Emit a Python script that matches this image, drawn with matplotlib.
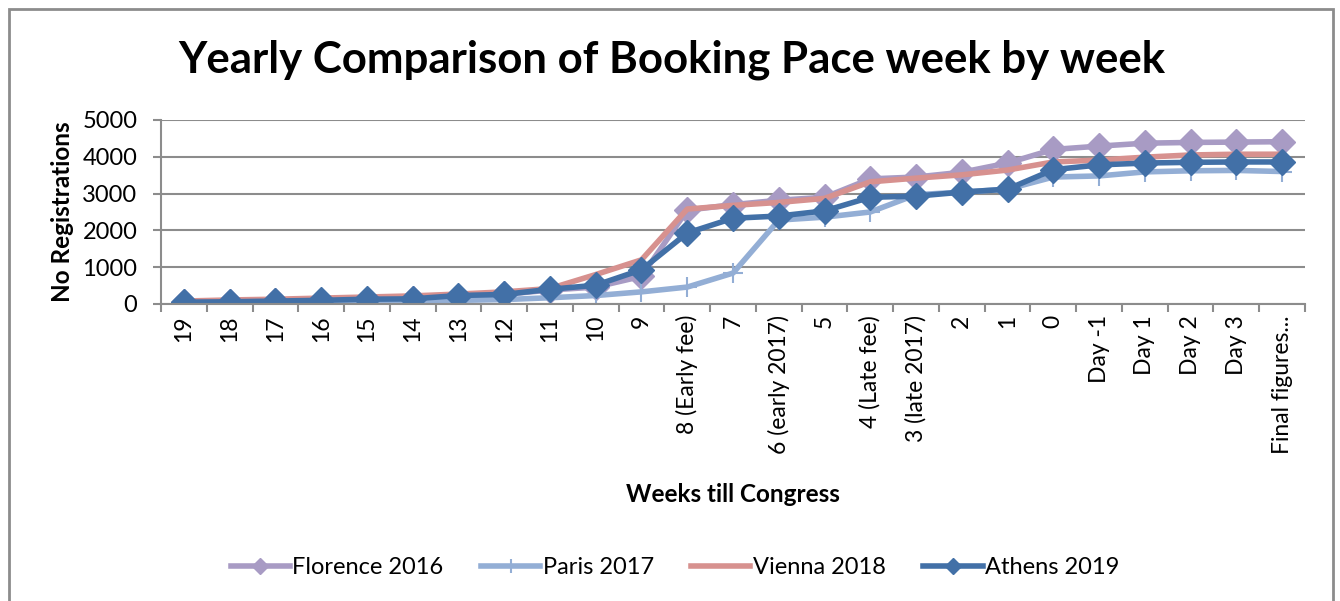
import matplotlib
matplotlib.use("Agg")
import matplotlib.pyplot as plt
from matplotlib.patches import Rectangle

plt.rcParams['font.family'] = ['Lato', 'DejaVu Sans']

weeks = ['19', '18', '17', '16', '15', '14', '13', '12', '11', '10', '9',
         '8 (Early fee)', '7', '6 (early 2017)', '5', '4 (Late fee)',
         '3 (late 2017)', '2', '1', '0', 'Day -1', 'Day 1', 'Day 2',
         'Day 3', 'Final figures...']

florence = [50, 60, 70, 90, 110, 130, 200, 260, 380, 460, 750,
            2550, 2700, 2820, 2900, 3400, 3450, 3580, 3830, 4200,
            4290, 4370, 4390, 4400, 4410]
paris = [30, 40, 50, 60, 70, 80, 100, 120, 170, 230, 330,
         460, 840, 2280, 2360, 2500, 2970, 3040, 3120, 3450,
         3480, 3590, 3620, 3630, 3600]
vienna = [80, 110, 130, 160, 190, 220, 270, 330, 420, 800, 1200,
          2580, 2680, 2760, 2870, 3320, 3420, 3510, 3640, 3860,
          3910, 3990, 4050, 4070, 4070]
athens = [50, 60, 80, 100, 130, 140, 230, 260, 400, 510, 930,
          1930, 2330, 2390, 2530, 2900, 2930, 3040, 3120, 3650,
          3780, 3830, 3850, 3860, 3860]

fig = plt.figure(figsize=(13.4, 6.01), dpi=100)
ax = fig.add_axes([161 / 1340, 1 - 304 / 601, (1305 - 161) / 1340, (304 - 120) / 601])

x = list(range(len(weeks)))
ax.plot(x, florence, color='#A89BC4', lw=4, marker='D', ms=13, label='Florence 2016')
ax.plot(x, paris, color='#93AED5', lw=4, marker='+', ms=15, mew=1.5, label='Paris 2017')
ax.plot(x, vienna, color='#D7918F', lw=4, label='Vienna 2018')
ax.plot(x, athens, color='#4270A7', lw=4, marker='D', ms=13, label='Athens 2019')

ax.set_xlim(-0.5, len(weeks) - 0.5)
ax.set_ylim(0, 5000)
ax.set_yticks(range(0, 5001, 1000))
ax.yaxis.grid(True, color='#8C8C8C', lw=1.5)
ax.set_axisbelow(True)
ax.set_xticks([i + 0.5 for i in range(-1, len(weeks))], minor=False)
ax.set_xticklabels([])
ax.set_xticks(x, minor=True)
ax.set_xticklabels(weeks, minor=True, rotation=90, fontsize=16.5)
ax.tick_params(axis='x', which='minor', length=0, pad=8)
ax.tick_params(axis='x', which='major', length=6, color='#8C8C8C', width=1.5)
ax.tick_params(axis='y', length=6, color='#8C8C8C', width=1.5, labelsize=17,
               direction='out', pad=11)
for s in ['top', 'right']:
    ax.spines[s].set_visible(False)
for s in ['left', 'bottom']:
    ax.spines[s].set_color('#8C8C8C')
    ax.spines[s].set_linewidth(1.5)

ax.set_ylabel('No Registrations', fontsize=17.5, fontweight='bold', labelpad=6)
fig.text(733 / 1340, 1 - 495 / 601, 'Weeks till Congress', ha='center', va='center',
         fontsize=17.5, fontweight='bold')
fig.text(672 / 1340, 1 - 60 / 601, 'Yearly Comparison of Booking Pace week by week',
         ha='center', va='center', fontsize=31.5, fontweight='bold')

fig.legend(loc='center', bbox_to_anchor=(675 / 1340, 1 - 568 / 601), ncol=4,
           frameon=False, fontsize=17, handlelength=2.5, columnspacing=1.6,
           handletextpad=0.1, markerscale=0.65)

fig.patches.append(Rectangle((9 / 1340, -0.1), (1333 - 9) / 1340, 1.1 - 9 / 601,
                             transform=fig.transFigure, fill=False,
                             edgecolor='#8C8C8C', lw=2))

fig.savefig('out.png', dpi=100)
